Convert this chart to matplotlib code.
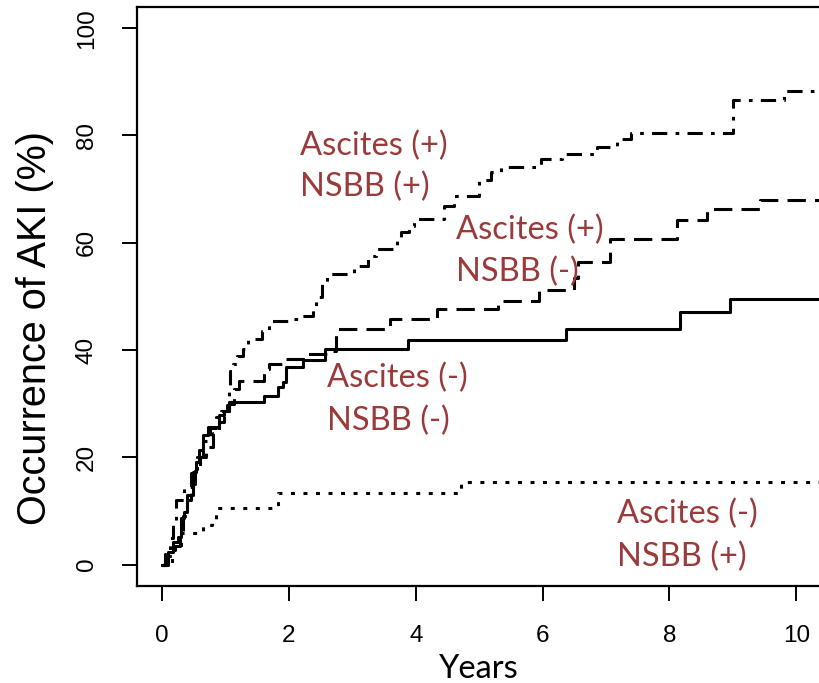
import matplotlib
matplotlib.use('Agg')
import matplotlib.pyplot as plt

# cumulative incidence steps (years, %)
t_neg_neg = [0, 0.09, 0.17, 0.25, 0.30, 0.35, 0.40, 0.48, 0.54, 0.59, 0.64, 0.72, 0.90, 0.98, 1.06,
             1.61, 1.82, 1.90, 1.96, 2.22, 2.57, 3.87, 6.37, 8.17, 8.96, 10.4]
y_neg_neg = [0, 2.4, 4.2, 5.2, 8.6, 9.8, 12.9, 17.3, 19.1, 21.3, 24.1, 25.6, 27.8, 28.7, 30.3,
             31.5, 33.1, 34.0, 36.8, 38.2, 40.2, 41.9, 43.9, 47.0, 49.5, 49.5]

t_neg_pos = [0, 0.15, 0.30, 0.65, 0.78, 0.85, 1.82, 4.72, 10.4]
y_neg_pos = [0, 2.7, 5.8, 7.3, 8.2, 10.5, 13.3, 15.4, 15.4]

t_pos_neg = [0, 0.08, 0.20, 0.28, 0.33, 0.40, 0.45, 0.52, 0.60, 0.70, 0.80, 0.90, 0.97, 1.05, 1.14,
             1.22, 1.60, 1.68, 1.93, 2.30, 2.66, 2.74, 3.60, 4.34, 5.29, 5.94, 6.49, 6.55, 7.07,
             8.12, 8.59, 9.43, 10.4]
y_pos_neg = [0, 1.5, 3.5, 6.0, 9.0, 12.0, 15.0, 18.0, 20.0, 22.0, 24.5, 26.5, 28.5, 30.0, 32.8,
             34.3, 36.5, 37.4, 38.4, 39.3, 39.9, 43.9, 45.8, 47.7, 49.1, 51.1, 53.5, 56.4, 60.7,
             64.3, 66.3, 68.0, 68.0]

t_pos_pos = [0, 0.05, 0.12, 0.18, 0.22, 0.35, 0.45, 0.55, 0.65, 0.75, 0.85, 0.93, 1.03, 1.05, 1.07,
             1.12, 1.18, 1.27, 1.36, 1.58, 1.68, 1.98, 2.14, 2.38, 2.42, 2.52, 2.60, 3.02, 3.24,
             3.37, 3.71, 3.76, 3.90, 3.97, 4.45, 4.60, 5.00, 5.18, 5.35, 5.97, 6.30, 6.86, 7.18,
             7.39, 9.00, 9.80, 10.4]
y_pos_pos = [0, 2.0, 5.0, 8.0, 12.0, 14.5, 17.0, 20.0, 23.0, 25.5, 27.5, 28.7, 29.7, 33.0, 36.0,
             37.4, 38.9, 40.2, 42.1, 43.6, 45.4, 45.8, 46.4, 47.7, 49.9, 52.5, 54.2, 55.7, 57.6,
             58.8, 60.7, 62.0, 63.2, 64.4, 66.9, 68.8, 71.6, 73.1, 74.1, 75.6, 76.5, 77.8, 79.3,
             80.5, 86.6, 88.2, 88.2]

x_ticks = [0, 2, 4, 6, 8, 10]
y_ticks = [0, 20, 40, 60, 80, 100]

# group labels: (x, baseline line 1, baseline line 2, line1, line2)
labels = [
    (2.17, 76.4, 68.6, 'Ascites (+)', 'NSBB (+)'),
    (4.63, 60.7, 52.9, 'Ascites (+)', 'NSBB (-)'),
    (2.60, 33.0, 25.0, 'Ascites (-)', 'NSBB (-)'),
    (7.17, 7.8, -0.3, 'Ascites (-)', 'NSBB (+)'),
]

text_col = '#9a3a3a'

fig = plt.figure(figsize=(8.19, 6.83), dpi=100)
ax = fig.add_axes([136.7 / 819, 97 / 683, 685 / 819, 579.3 / 683])

lw = 2.2
ax.step(t_neg_neg, y_neg_neg, where='post', color='black', lw=lw)
ax.step(t_neg_pos, y_neg_pos, where='post', color='black', lw=lw, linestyle=(0, (1.3, 2.8)))
ax.step(t_pos_neg, y_pos_neg, where='post', color='black', lw=lw, linestyle=(0, (6, 3)))
ax.step(t_pos_pos, y_pos_pos, where='post', color='black', lw=lw, linestyle=(0, (5, 2.7, 1.2, 2.7)))

ax.set_xlim(-0.4, 10.4)
ax.set_ylim(-4, 104)
ax.set_xticks(x_ticks)
ax.set_yticks(y_ticks)
ax.tick_params(direction='out', length=11, width=1.4, labelsize=17.5, pad=17)
for lab in ax.get_xticklabels() + ax.get_yticklabels():
    lab.set_fontfamily('Liberation Sans')
plt.setp(ax.get_yticklabels(), rotation=90, va='center')
for s in ax.spines.values():
    s.set_linewidth(1.6)

for x, y1, y2, l1, l2 in labels:
    ax.text(x, y1, l1, color=text_col, fontsize=23.5, family='Lato', va='baseline', ha='left')
    ax.text(x, y2, l2, color=text_col, fontsize=23.5, family='Lato', va='baseline', ha='left')

fig.text(35 / 819, 1 - 328 / 683, 'Occurrence of AKI (%)', rotation=90, ha='center', va='center',
         fontsize=28.5, family='Liberation Sans')
fig.text(479 / 819, 5 / 683, 'Years', ha='center', va='baseline', fontsize=23.5, family='Lato')

fig.savefig('out.png', dpi=100)
